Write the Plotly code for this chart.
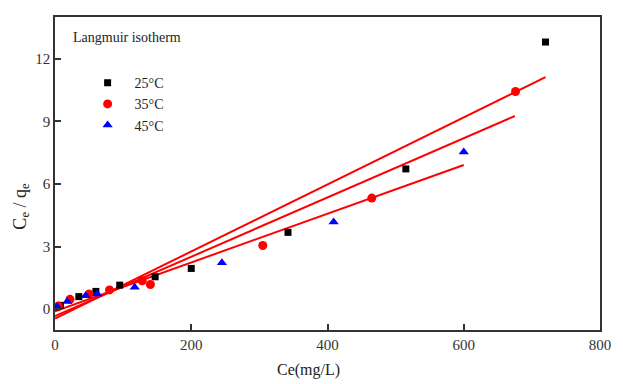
import plotly.graph_objects as go

# Data
ce_25 = [2, 8, 35, 60, 95, 147, 200, 342, 515, 720]
cq_25 = [0.10, 0.18, 0.60, 0.85, 1.15, 1.55, 1.95, 3.68, 6.72, 12.8]

ce_35 = [5, 22, 50, 80, 128, 140, 305, 465, 676]
cq_35 = [0.15, 0.47, 0.73, 0.92, 1.36, 1.18, 3.05, 5.32, 10.43]

ce_45 = [3, 18, 45, 62, 117, 245, 409, 600]
cq_45 = [0.12, 0.37, 0.64, 0.73, 1.05, 2.22, 4.17, 7.53]

labels = ["25\u00b0C", "35\u00b0C", "45\u00b0C"]

# Linear fit lines (slope, intercept, x-extent)
fit_slope = [0.01607, 0.01420, 0.01168]
fit_intercept = [-0.45, -0.33, -0.10]
fit_xmax = [720, 675, 600]
fit_xmin = [0, 0, 0]

x_ticks = [0, 200, 400, 600, 800]
y_ticks = [0, 3, 6, 9, 12]

FONT = "Liberation Serif, Times New Roman, serif"

fig = go.Figure()

# fit lines
for s, b, x0, x1 in zip(fit_slope, fit_intercept, fit_xmin, fit_xmax):
    fig.add_trace(go.Scatter(
        x=[x0, x1], y=[b + s * x0, b + s * x1], mode="lines",
        line=dict(color="#ff0000", width=2), showlegend=False, hoverinfo="skip"))

fig.add_trace(go.Scatter(x=ce_25, y=cq_25, mode="markers", name=labels[0],
                         marker=dict(symbol="square", color="black", size=7)))
fig.add_trace(go.Scatter(x=ce_35, y=cq_35, mode="markers", name=labels[1],
                         marker=dict(symbol="circle", color="#ff0000", size=9)))
fig.add_trace(go.Scatter(x=ce_45, y=cq_45, mode="markers", name=labels[2],
                         marker=dict(symbol="triangle-up", color="#0000ff", size=9)))

axis_common = dict(
    showgrid=False, zeroline=False, showline=True, linecolor="#333333", linewidth=1.5,
    mirror=True, ticks="inside", ticklen=6, tickwidth=1.5, tickcolor="#333333",
    tickfont=dict(family=FONT, size=15, color="#333333"),
)

fig.update_layout(
    width=623, height=384,
    margin=dict(l=55, r=13, t=17, b=54),
    paper_bgcolor="white", plot_bgcolor="white",
    font=dict(family=FONT, color="#222222"),
    xaxis=dict(range=[0, 800], tickvals=x_ticks, **axis_common),
    yaxis=dict(range=[-1, 14], tickvals=y_ticks, **axis_common),
    legend=dict(x=0.047, y=0.84, xanchor="left", yanchor="top", itemwidth=44,
                bgcolor="rgba(0,0,0,0)", font=dict(family=FONT, size=14, color="#222222"),
                tracegroupgap=0),
    annotations=[
        dict(text="Langmuir isotherm", xref="paper", yref="paper",
             x=0.03, y=0.935, xanchor="left", yanchor="middle", showarrow=False,
             font=dict(family=FONT, size=14, color="#222222")),
        dict(text="Ce(mg/L)", xref="paper", yref="paper",
             x=(313 - 55) / 555, y=-(370 - 330) / 313, xanchor="center", yanchor="middle",
             showarrow=False, font=dict(family=FONT, size=16, color="#222222")),
        dict(text="C<sub>e</sub> / q<sub>e</sub>", xref="paper", yref="paper",
             x=-(55 - 20) / 555, y=(330 - 206) / 313, xanchor="center", yanchor="middle",
             textangle=-90, showarrow=False, font=dict(family=FONT, size=18, color="#222222")),
    ],
)

fig.write_html("out.html")
